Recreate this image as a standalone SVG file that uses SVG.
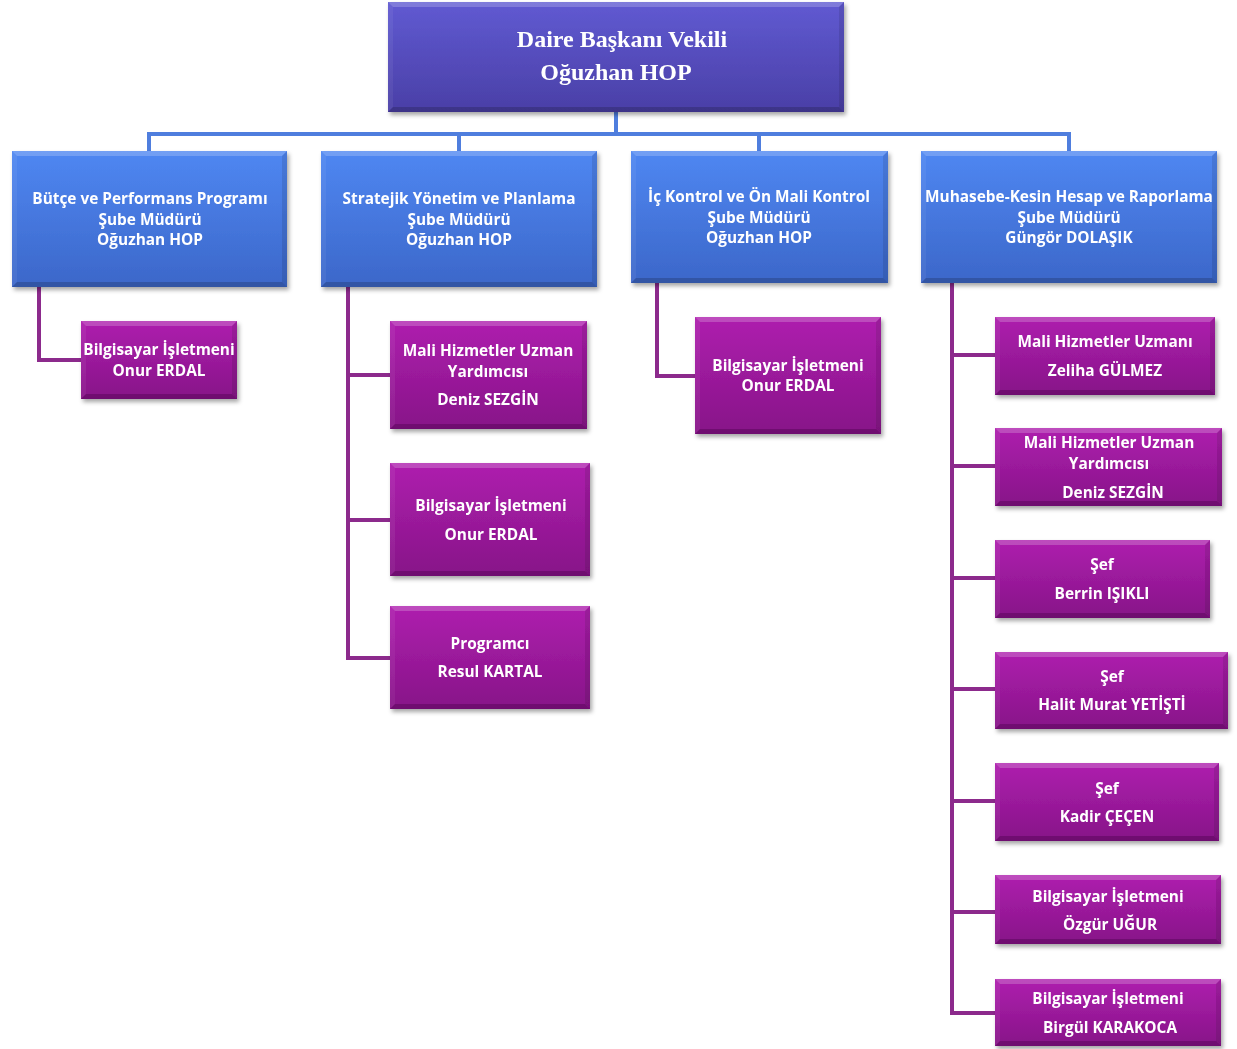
<svg xmlns="http://www.w3.org/2000/svg" width="1237" height="1049" viewBox="0 0 1237 1049">
<defs>
<linearGradient id="gTop" x1="0" y1="0" x2="0" y2="1"><stop offset="0" stop-color="#605ad2"/><stop offset="1" stop-color="#4a3fa6"/></linearGradient>
<linearGradient id="gBlue" x1="0" y1="0" x2="0" y2="1"><stop offset="0" stop-color="#4f87f2"/><stop offset="1" stop-color="#3c67c9"/></linearGradient>
<linearGradient id="gPur" x1="0" y1="0" x2="0" y2="1"><stop offset="0" stop-color="#ae1fae"/><stop offset="1" stop-color="#871488"/></linearGradient>
<filter id="sh" x="-10%" y="-10%" width="125%" height="130%"><feDropShadow dx="2" dy="3" stdDeviation="2" flood-color="#000" flood-opacity="0.35"/></filter>
</defs>
<style>
.t{font-family:"Open Sans","DejaVu Sans",sans-serif;font-weight:bold;font-size:15.4px;fill:#fff;text-anchor:middle}
.tt{font-family:"Liberation Serif","Times New Roman",serif;font-weight:bold;font-size:24px;fill:#fff;text-anchor:middle}
.bt{fill:#fff;fill-opacity:.2}
.bb{fill:#000;fill-opacity:.18}
.bl{fill:#fff;fill-opacity:.06}
.br{fill:#000;fill-opacity:.1}
.cb{fill:none;stroke:#4f7ede;stroke-width:4}
.cp{fill:none;stroke:#8c2a8c;stroke-width:4}
</style>
<rect width="1237" height="1049" fill="#fff"/>
<g id="connectors">
<path class="cb" d="M616 112V134M149 134H1069M149 132V151M459 132V151M759 132V151M1069 132V151"/>
<path class="cp" d="M39 287V360H81"/>
<path class="cp" d="M348 287V658H390M348 375H390M348 520H390"/>
<path class="cp" d="M657 283V376H695"/>
<path class="cp" d="M952 283V1013H995M952 355H995M952 466H995M952 578H995M952 689H995M952 801H995M952 912H995"/>
</g>
<g id="n0" filter="url(#sh)">
<rect x="388" y="2" width="456" height="110" fill="url(#gTop)"/>
<polygon class="bt" points="388,2 844,2 839,7 393,7"/><polygon class="bb" points="388,112 844,112 839,107 393,107"/><polygon class="bl" points="388,2 393,7 393,107 388,112"/><polygon class="br" points="844,2 839,7 839,107 844,112"/>
<text class="tt" x="622" y="47">Daire Başkanı Vekili</text><text class="tt" x="616" y="80">Oğuzhan HOP</text>
</g>
<g id="n1" filter="url(#sh)">
<rect x="12" y="151" width="275" height="136" fill="url(#gBlue)"/>
<polygon class="bt" points="12,151 287,151 282,156 17,156"/><polygon class="bb" points="12,287 287,287 282,282 17,282"/><polygon class="bl" points="12,151 17,156 17,282 12,287"/><polygon class="br" points="287,151 282,156 282,282 287,287"/>
<text class="t" x="150" y="204">Bütçe ve Performans Programı</text><text class="t" x="150" y="225">Şube Müdürü</text><text class="t" x="150" y="245">Oğuzhan HOP</text>
</g>
<g id="n2" filter="url(#sh)">
<rect x="321" y="151" width="276" height="136" fill="url(#gBlue)"/>
<polygon class="bt" points="321,151 597,151 592,156 326,156"/><polygon class="bb" points="321,287 597,287 592,282 326,282"/><polygon class="bl" points="321,151 326,156 326,282 321,287"/><polygon class="br" points="597,151 592,156 592,282 597,287"/>
<text class="t" x="459" y="204">Stratejik Yönetim ve Planlama</text><text class="t" x="459" y="225">Şube Müdürü</text><text class="t" x="459" y="245">Oğuzhan HOP</text>
</g>
<g id="n3" filter="url(#sh)">
<rect x="631" y="151" width="257" height="132" fill="url(#gBlue)"/>
<polygon class="bt" points="631,151 888,151 883,156 636,156"/><polygon class="bb" points="631,283 888,283 883,278 636,278"/><polygon class="bl" points="631,151 636,156 636,278 631,283"/><polygon class="br" points="888,151 883,156 883,278 888,283"/>
<text class="t" x="759" y="202">İç Kontrol ve Ön Mali Kontrol</text><text class="t" x="759" y="223">Şube Müdürü</text><text class="t" x="759" y="243">Oğuzhan HOP</text>
</g>
<g id="n4" filter="url(#sh)">
<rect x="921" y="151" width="296" height="132" fill="url(#gBlue)"/>
<polygon class="bt" points="921,151 1217,151 1212,156 926,156"/><polygon class="bb" points="921,283 1217,283 1212,278 926,278"/><polygon class="bl" points="921,151 926,156 926,278 921,283"/><polygon class="br" points="1217,151 1212,156 1212,278 1217,283"/>
<text class="t" x="1069" y="202">Muhasebe-Kesin Hesap ve Raporlama</text><text class="t" x="1069" y="223">Şube Müdürü</text><text class="t" x="1069" y="243">Güngör DOLAŞIK</text>
</g>
<g id="p1" filter="url(#sh)">
<rect x="81" y="321" width="156" height="78" fill="url(#gPur)"/>
<polygon class="bt" points="81,321 237,321 232,326 86,326"/><polygon class="bb" points="81,399 237,399 232,394 86,394"/><polygon class="bl" points="81,321 86,326 86,394 81,399"/><polygon class="br" points="237,321 232,326 232,394 237,399"/>
<text class="t" x="159" y="355">Bilgisayar İşletmeni</text><text class="t" x="159" y="376">Onur ERDAL</text>
</g>
<g id="p2a" filter="url(#sh)">
<rect x="390" y="321" width="197" height="108" fill="url(#gPur)"/>
<polygon class="bt" points="390,321 587,321 582,326 395,326"/><polygon class="bb" points="390,429 587,429 582,424 395,424"/><polygon class="bl" points="390,321 395,326 395,424 390,429"/><polygon class="br" points="587,321 582,326 582,424 587,429"/>
<text class="t" x="488" y="356">Mali Hizmetler Uzman</text><text class="t" x="488" y="377">Yardımcısı</text><text class="t" x="488" y="405">Deniz SEZGİN</text>
</g>
<g id="p2b" filter="url(#sh)">
<rect x="390" y="463" width="200" height="113" fill="url(#gPur)"/>
<polygon class="bt" points="390,463 590,463 585,468 395,468"/><polygon class="bb" points="390,576 590,576 585,571 395,571"/><polygon class="bl" points="390,463 395,468 395,571 390,576"/><polygon class="br" points="590,463 585,468 585,571 590,576"/>
<text class="t" x="491" y="511">Bilgisayar İşletmeni</text><text class="t" x="491" y="540">Onur ERDAL</text>
</g>
<g id="p2c" filter="url(#sh)">
<rect x="390" y="606" width="200" height="103" fill="url(#gPur)"/>
<polygon class="bt" points="390,606 590,606 585,611 395,611"/><polygon class="bb" points="390,709 590,709 585,704 395,704"/><polygon class="bl" points="390,606 395,611 395,704 390,709"/><polygon class="br" points="590,606 585,611 585,704 590,709"/>
<text class="t" x="490" y="649">Programcı</text><text class="t" x="490" y="677">Resul KARTAL</text>
</g>
<g id="p3" filter="url(#sh)">
<rect x="695" y="317" width="186" height="117" fill="url(#gPur)"/>
<polygon class="bt" points="695,317 881,317 876,322 700,322"/><polygon class="bb" points="695,434 881,434 876,429 700,429"/><polygon class="bl" points="695,317 700,322 700,429 695,434"/><polygon class="br" points="881,317 876,322 876,429 881,434"/>
<text class="t" x="788" y="371">Bilgisayar İşletmeni</text><text class="t" x="788" y="391">Onur ERDAL</text>
</g>
<g id="p4a" filter="url(#sh)">
<rect x="995" y="317" width="220" height="78" fill="url(#gPur)"/>
<polygon class="bt" points="995,317 1215,317 1210,322 1000,322"/><polygon class="bb" points="995,395 1215,395 1210,390 1000,390"/><polygon class="bl" points="995,317 1000,322 1000,390 995,395"/><polygon class="br" points="1215,317 1210,322 1210,390 1215,395"/>
<text class="t" x="1105" y="347">Mali Hizmetler Uzmanı</text><text class="t" x="1105" y="376">Zeliha GÜLMEZ</text>
</g>
<g id="p4b" filter="url(#sh)">
<rect x="995" y="428" width="227" height="78" fill="url(#gPur)"/>
<polygon class="bt" points="995,428 1222,428 1217,433 1000,433"/><polygon class="bb" points="995,506 1222,506 1217,501 1000,501"/><polygon class="bl" points="995,428 1000,433 1000,501 995,506"/><polygon class="br" points="1222,428 1217,433 1217,501 1222,506"/>
<text class="t" x="1109" y="448">Mali Hizmetler Uzman</text><text class="t" x="1109" y="469">Yardımcısı</text><text class="t" x="1113" y="498">Deniz SEZGİN</text>
</g>
<g id="p4c" filter="url(#sh)">
<rect x="995" y="540" width="215" height="78" fill="url(#gPur)"/>
<polygon class="bt" points="995,540 1210,540 1205,545 1000,545"/><polygon class="bb" points="995,618 1210,618 1205,613 1000,613"/><polygon class="bl" points="995,540 1000,545 1000,613 995,618"/><polygon class="br" points="1210,540 1205,545 1205,613 1210,618"/>
<text class="t" x="1102" y="570">Şef</text><text class="t" x="1102" y="599">Berrin IŞIKLI</text>
</g>
<g id="p4d" filter="url(#sh)">
<rect x="995" y="652" width="233" height="77" fill="url(#gPur)"/>
<polygon class="bt" points="995,652 1228,652 1223,657 1000,657"/><polygon class="bb" points="995,729 1228,729 1223,724 1000,724"/><polygon class="bl" points="995,652 1000,657 1000,724 995,729"/><polygon class="br" points="1228,652 1223,657 1223,724 1228,729"/>
<text class="t" x="1112" y="682">Şef</text><text class="t" x="1112" y="710">Halit Murat YETİŞTİ</text>
</g>
<g id="p4e" filter="url(#sh)">
<rect x="995" y="763" width="224" height="78" fill="url(#gPur)"/>
<polygon class="bt" points="995,763 1219,763 1214,768 1000,768"/><polygon class="bb" points="995,841 1219,841 1214,836 1000,836"/><polygon class="bl" points="995,763 1000,768 1000,836 995,841"/><polygon class="br" points="1219,763 1214,768 1214,836 1219,841"/>
<text class="t" x="1107" y="794">Şef</text><text class="t" x="1107" y="822">Kadir ÇEÇEN</text>
</g>
<g id="p4f" filter="url(#sh)">
<rect x="995" y="875" width="226" height="69" fill="url(#gPur)"/>
<polygon class="bt" points="995,875 1221,875 1216,880 1000,880"/><polygon class="bb" points="995,944 1221,944 1216,939 1000,939"/><polygon class="bl" points="995,875 1000,880 1000,939 995,944"/><polygon class="br" points="1221,875 1216,880 1216,939 1221,944"/>
<text class="t" x="1108" y="902">Bilgisayar İşletmeni</text><text class="t" x="1110" y="930">Özgür UĞUR</text>
</g>
<g id="p4g" filter="url(#sh)">
<rect x="995" y="979" width="226" height="67" fill="url(#gPur)"/>
<polygon class="bt" points="995,979 1221,979 1216,984 1000,984"/><polygon class="bb" points="995,1046 1221,1046 1216,1041 1000,1041"/><polygon class="bl" points="995,979 1000,984 1000,1041 995,1046"/><polygon class="br" points="1221,979 1216,984 1216,1041 1221,1046"/>
<text class="t" x="1108" y="1004">Bilgisayar İşletmeni</text><text class="t" x="1110" y="1033">Birgül KARAKOCA</text>
</g>
</svg>
